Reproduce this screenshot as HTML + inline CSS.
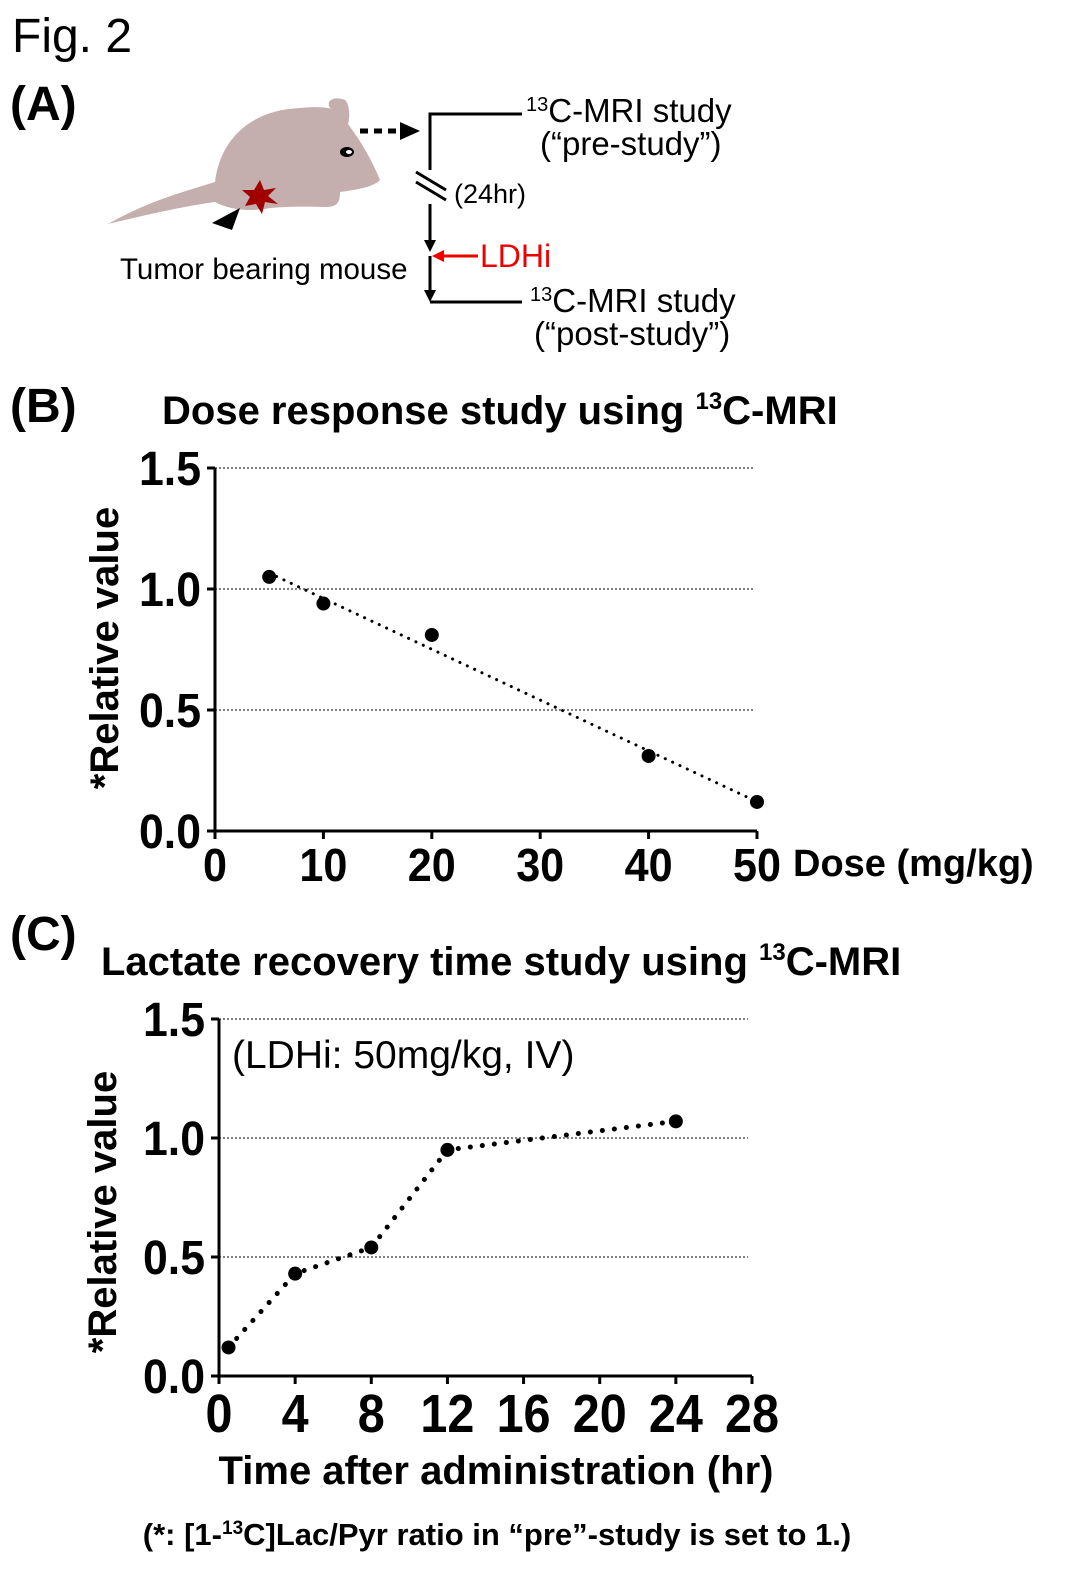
<!DOCTYPE html>
<html><head><meta charset="utf-8"><style>
body{margin:0;background:#fff;}
svg{display:block;font-family:"Liberation Sans",Arial,sans-serif;}
</style></head><body>
<svg id="fig" width="1077" height="1582" viewBox="0 0 1077 1582">
<text x="12" y="52" font-size="48">Fig. 2</text>
<text x="10" y="120" font-size="48" font-weight="bold">(A)</text>
<g>
<path d="M108,224 C150,200 190,190 215,182 C220,140 250,110 300,108 C320,106 330,108 335,110 L330,108 C325,100 335,96 345,100 C350,105 350,118 348,124 C360,140 372,160 380,180 C374,187 355,190 340,192 C340,202 338,207 325,207 C300,206 280,207 270,208 C250,212 230,210 215,202 C180,207 150,214 108,224 Z" fill="#c4aeae"/>
<ellipse cx="347" cy="152" rx="7" ry="5" fill="#000"/><ellipse cx="349" cy="152" rx="3" ry="2" fill="#fff"/>
<polygon points="260,180 264,190 276,188 268,196 278,204 265,202 262,214 256,204 245,206 250,197 242,190 254,190" fill="#a00000"/>
<polygon points="212,223 240,208 232,230" fill="#000"/>
</g>
<text x="120" y="279" font-size="29.5">Tumor bearing mouse</text>
<g>
<line x1="360" y1="131" x2="400" y2="131" stroke="#000" stroke-width="5" stroke-dasharray="8,6"/>
<polygon points="400,122 420,131 400,140" fill="#000"/>
<polyline points="522,114 430,114 430,170" fill="none" stroke="#000" stroke-width="3"/>
<line x1="416" y1="172" x2="446" y2="190" stroke="#000" stroke-width="3"/>
<line x1="416" y1="182" x2="446" y2="200" stroke="#000" stroke-width="3"/>
<line x1="430" y1="204" x2="430" y2="240" stroke="#000" stroke-width="3"/>
<polygon points="424,240 436,240 430,252" fill="#000"/>
<line x1="430" y1="256" x2="430" y2="290" stroke="#000" stroke-width="3"/>
<polygon points="424,290 436,290 430,302" fill="#000"/>
<line x1="430" y1="302" x2="522" y2="302" stroke="#000" stroke-width="3"/>
<line x1="444" y1="256" x2="478" y2="256" stroke="#e00" stroke-width="3"/>
<polygon points="444,250 432,256 444,262" fill="#e00"/>
<text x="454" y="203" font-size="27">(24hr)</text>
<text x="480" y="267" font-size="32" fill="#e00">LDHi</text>
<text x="526" y="122" font-size="33"><tspan font-size="20" dy="-11">13</tspan><tspan dy="11">C-MRI study</tspan></text>
<text x="540" y="155" font-size="33">(“pre-study”)</text>
<text x="530" y="312" font-size="33"><tspan font-size="20" dy="-11">13</tspan><tspan dy="11">C-MRI study</tspan></text>
<text x="534" y="345" font-size="33">(“post-study”)</text>
</g>
<text x="10" y="422" font-size="48" font-weight="bold">(B)</text>
<text x="162" y="424" font-size="40" font-weight="bold">Dose response study using <tspan font-size="24" dy="-15">13</tspan><tspan dy="15">C-MRI</tspan></text>
<text transform="translate(118,648) rotate(-90)" text-anchor="middle" font-size="40" font-weight="bold">*Relative value</text>
<text x="793" y="876" font-size="38" font-weight="bold">Dose (mg/kg)</text>
<g id="chartB"></g>
<text x="10" y="950" font-size="48" font-weight="bold">(C)</text>
<text x="101" y="975" font-size="40" font-weight="bold">Lactate recovery time study using <tspan font-size="24" dy="-15">13</tspan><tspan dy="15">C-MRI</tspan></text>
<text transform="translate(116,1212) rotate(-90)" text-anchor="middle" font-size="40" font-weight="bold">*Relative value</text>
<text x="232" y="1068" font-size="39">(LDHi: 50mg/kg, IV)</text>
<text x="496" y="1484" text-anchor="middle" font-size="40" font-weight="bold">Time after administration (hr)</text>
<g id="chartC"></g>
<text x="497" y="1545" text-anchor="middle" font-size="31" font-weight="bold">(*: [1-<tspan font-size="19" dy="-11">13</tspan><tspan dy="11">C]Lac/Pyr ratio in “pre”-study is set to 1.)</tspan></text>
</svg>
<script>
const doseX = [5, 10, 20, 40, 50];
const doseY = [1.05, 0.94, 0.81, 0.31, 0.12];
const doseTicks = [0, 10, 20, 30, 40, 50];
const timeX = [0.5, 4, 8, 12, 24];
const timeY = [0.12, 0.43, 0.54, 0.95, 1.07];
const timeTicks = [0, 4, 8, 12, 16, 20, 24, 28];
const yTicks = [0, 0.5, 1.0, 1.5];

const NS = "http://www.w3.org/2000/svg";
function mk(tag, attrs, parent){const e=document.createElementNS(NS,tag);for(const k in attrs)e.setAttribute(k,attrs[k]);parent.appendChild(e);return e;}

function drawChart(g, cfg){
  const sx=v=>cfg.x0+(v-cfg.xmin)/(cfg.xmax-cfg.xmin)*(cfg.x1-cfg.x0);
  const sy=v=>cfg.y0-(v/1.5)*(cfg.y0-cfg.y1);
  yTicks.forEach(t=>{
    if(t>0){const gl=mk('line',{x1:cfg.x0,x2:cfg.gridEnd,y1:sy(t),y2:sy(t),stroke:'#000','stroke-width':1,'stroke-dasharray':'2,2'},g);
    
    }
    const tk=mk('line',{x1:cfg.x0-8,x2:cfg.x0,y1:sy(t),y2:sy(t),stroke:'#000','stroke-width':3},g);
    
    
    const tl=mk('text',{x:cfg.x0-14,y:sy(t)+17,'text-anchor':'end','font-size':48,'font-weight':'bold',textLength:62,lengthAdjust:'spacingAndGlyphs'},g);
    tl.textContent=t.toFixed(1);
    
    
  });
  cfg.ticks.forEach(t=>{
    const tk=mk('line',{x1:sx(t),x2:sx(t),y1:cfg.y0,y2:cfg.y0+8,stroke:'#000','stroke-width':3},g);
    
    
    const s=String(t);
    const tl=mk('text',{x:sx(t),y:cfg.y0+cfg.tickDy,'text-anchor':'middle','font-size':cfg.tickFont,'font-weight':'bold',textLength:cfg.digitW*s.length,lengthAdjust:'spacingAndGlyphs'},g);
    tl.textContent=s;
    
    
  });
  const ax=mk('path',{d:`M${cfg.x0},${cfg.y1} V${cfg.y0} H${cfg.x1}`,fill:'none',stroke:'#000','stroke-width':3},g);
  
  
  let pts;
  if(cfg.fit){
    const n=cfg.xs.length,mx=cfg.xs.reduce((a,b)=>a+b)/n,my=cfg.ys.reduce((a,b)=>a+b)/n;
    let sxy=0,sxx=0;cfg.xs.forEach((x,i)=>{sxy+=(x-mx)*(cfg.ys[i]-my);sxx+=(x-mx)*(x-mx);});
    const b=sxy/sxx,a=my-b*mx,xa=cfg.xs[0],xb=cfg.xs[n-1];
    pts=`${sx(xa)},${sy(a+b*xa)} ${sx(xb)},${sy(a+b*xb)}`;
  } else pts=cfg.xs.map((x,i)=>`${sx(x)},${sy(cfg.ys[i])}`).join(' ');
  const ln=mk('polyline',{points:pts,fill:'none',stroke:'#000','stroke-width':cfg.lw,'stroke-dasharray':cfg.dash,'stroke-linecap':'round'},g);
  
  
  cfg.xs.forEach((x,i)=>{
    const c=mk('circle',{cx:sx(x),cy:sy(cfg.ys[i]),r:7,fill:'#000'},g);
    
    
  });
}
drawChart(document.getElementById('chartB'),{x0:215,x1:757,xmin:0,xmax:50,y0:831,y1:468,gridEnd:755,ticks:doseTicks,xs:doseX,ys:doseY,fit:true,lw:3,dash:'0.1,8',tickFont:46,tickDy:50,digitW:24});
drawChart(document.getElementById('chartC'),{x0:219,x1:752,xmin:0,xmax:28,y0:1376,y1:1019,gridEnd:748,ticks:timeTicks,xs:timeX,ys:timeY,fit:false,lw:5,dash:'0.1,12',tickFont:54,tickDy:56,digitW:27});
</script>
</body></html>
